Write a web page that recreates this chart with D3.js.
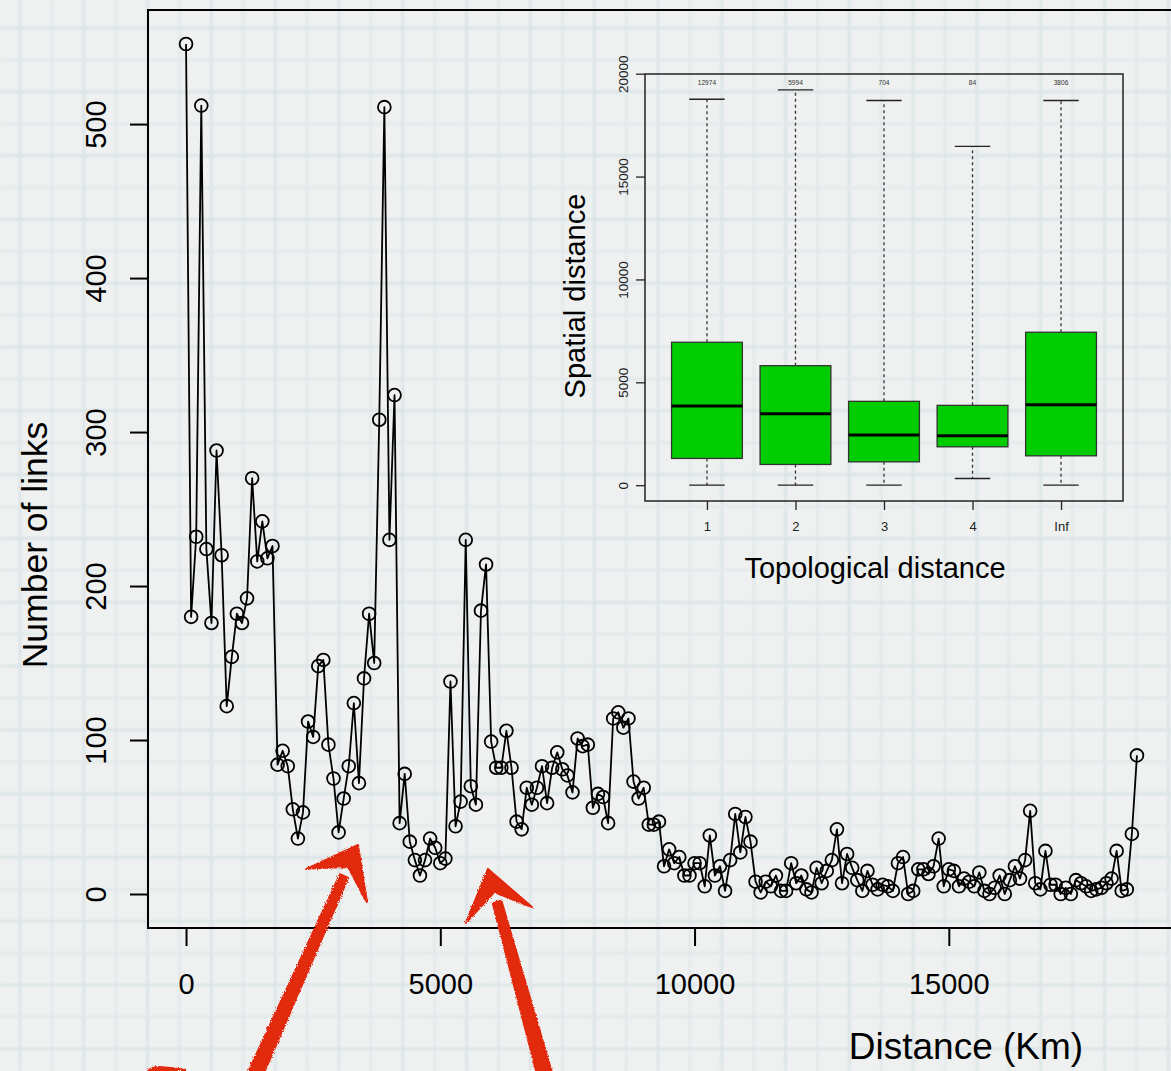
<!DOCTYPE html>
<meta charset="utf-8">
<title>Number of links by distance</title>
<style>
  body { margin: 0; background: #eff1f1; }
  svg { display: block; font-family: "Liberation Sans", Arial, Helvetica, sans-serif; }
</style>
<body>
<svg id="chart" width="1171" height="1071"></svg>
<script src="https://d3js.org/d3.v7.min.js"></script>
<script>

var width = 1171,
    height = 1071;

// number of links in each 100 km distance bin
var binWidthKm = 100;
var linkCounts = [
  552, 180, 232, 512, 224, 176, 288, 220, 122, 154,
  182, 176, 192, 270, 216, 242, 218, 226, 84, 93,
  83, 55, 36, 53, 112, 102, 148, 152, 97, 75,
  40, 62, 83, 124, 72, 140, 182, 150, 308, 511,
  230, 324, 46, 78, 34, 22, 12, 22, 36, 30,
  20, 23, 138, 44, 60, 230, 70, 58, 184, 214,
  99, 82, 82, 106, 82, 47, 42, 69, 58, 69,
  83, 59, 82, 92, 81, 77, 66, 101, 96, 97,
  56, 65, 63, 46, 114, 118, 108, 114, 73, 62,
  69, 45, 45, 47, 18, 29, 20, 24, 12, 12,
  20, 20, 5, 38, 12, 18, 2, 22, 52, 27,
  50, 34, 8, 1, 8, 5, 12, 2, 2, 20,
  7, 12, 3, 1, 17, 7, 15, 22, 42, 7,
  26, 17, 9, 2, 15, 6, 3, 6, 5, 2,
  20, 24, 0, 2, 16, 16, 13, 18, 36, 5,
  16, 15, 5, 10, 8, 5, 14, 2, 0, 4,
  12, 0, 9, 18, 10, 22, 54, 7, 3, 28,
  6, 6, 0, 4, 0, 9, 7, 5, 2, 3,
  4, 7, 10, 28, 2, 3, 39, 90
];

var xTicks = [0, 5000, 10000, 15000];
var yTicks = [0, 100, 200, 300, 400, 500];

// inset: spatial distance by topological distance (boxplot stats)
var topoCategories = ["1", "2", "3", "4", "Inf"];
var topoCounts = [12974, 5994, 704, 84, 3806];
var whiskerLow = [0, 0, 0, 326, 0];
var quartileLow = [1300, 1008, 1134, 1865, 1427];
var medians = [3846, 3471, 2434, 2400, 3910];
var quartileHigh = [6947, 5808, 4075, 3880, 7434];
var whiskerHigh = [18758, 19216, 18696, 16470, 18696];
var insetTicks = [0, 5000, 10000, 15000, 20000];

// hand drawn arrows, in data units (km, links)
var arrows = [
  { tail: [1356, -117.5], tip: [3381, 31.8], left: [2359, 16.2], right: [3558, -5.2] },
  { tail: [7057, -117.5], tip: [5937, 16.2], left: [5504, -18.8], right: [6802, -8.4] }
];

var points = linkCounts.map(function(c, i) { return { km: i * binWidthKm, links: c }; });

// R style axis limits (4% padding)
function rlim(lo, hi) { var e = (hi - lo) * 0.04; return [lo - e, hi + e]; }

var svg = d3.select('#chart');
var defs = svg.append('defs');

// graph paper background
defs.append('filter').attr('id', 'soft')
  .append('feGaussianBlur').attr('stdDeviation', 0.9);
var paper = svg.append('g');
paper.append('rect').attr('width', width).attr('height', height).attr('fill', '#eff1f1');
var grid = paper.append('g').attr('filter', 'url(#soft)');
var gridStep = 31.9;
grid.selectAll('line.v')
  .data(d3.range(20, width, gridStep))
  .enter().append('line')
    .attr('x1', function(d) { return d; }).attr('x2', function(d) { return d; })
    .attr('y1', 0).attr('y2', height)
    .attr('stroke', function(d, i) { return i % 2 ? '#e1e8ea' : '#d9e3e6'; })
    .attr('stroke-width', 2.6);
grid.selectAll('line.h')
  .data(d3.range(28, height, gridStep))
  .enter().append('line')
    .attr('y1', function(d) { return d; }).attr('y2', function(d) { return d; })
    .attr('x1', 0).attr('x2', width)
    .attr('stroke', function(d, i) { return i % 2 ? '#e1e8ea' : '#d9e3e6'; })
    .attr('stroke-width', 2.6);

// ---- main plot ----
var x = d3.scaleLinear()
  .domain(rlim(0, d3.max(points, function(d) { return d.km; })))
  .range([148, 1175]);
var y = d3.scaleLinear()
  .domain(rlim(0, d3.max(linkCounts)))
  .range([928, 10]);

var main = svg.append('g');

main.append('rect')
  .attr('x', x.range()[0]).attr('y', y.range()[1])
  .attr('width', x.range()[1] - x.range()[0])
  .attr('height', y.range()[0] - y.range()[1])
  .attr('fill', 'none').attr('stroke', '#000').attr('stroke-width', 2);

var yAxis = main.append('g')
  .attr('transform', 'translate(' + x.range()[0] + ',0)')
  .call(d3.axisLeft(y).tickValues(yTicks).tickSize(18).tickFormat(d3.format('d')));
yAxis.select('.domain').remove();
yAxis.selectAll('.tick line').attr('stroke-width', 2);
yAxis.selectAll('.tick text')
  .attr('transform', 'rotate(-90)')
  .attr('x', 0).attr('y', -42).attr('dy', null)
  .attr('text-anchor', 'middle')
  .style('font-size', '29px').style('font-family', 'inherit');

var xAxis = main.append('g')
  .attr('transform', 'translate(0,' + y.range()[0] + ')')
  .call(d3.axisBottom(x).tickValues(xTicks).tickSize(18).tickFormat(d3.format('d')));
xAxis.select('.domain').remove();
xAxis.selectAll('.tick line').attr('stroke-width', 2);
xAxis.selectAll('.tick text')
  .attr('y', 66).attr('dy', null)
  .style('font-size', '29px').style('font-family', 'inherit');

main.append('text')
  .attr('transform', 'translate(47,545) rotate(-90)')
  .attr('text-anchor', 'middle')
  .style('font-size', '35.5px')
  .text('Number of links');

main.append('text')
  .attr('x', 966).attr('y', 1059)
  .attr('text-anchor', 'middle')
  .style('font-size', '37px')
  .text('Distance (Km)');

var line = d3.line()
  .x(function(d) { return x(d.km); })
  .y(function(d) { return y(d.links); });

main.append('path')
  .datum(points)
  .attr('d', line)
  .attr('fill', 'none').attr('stroke', '#000').attr('stroke-width', 1.8)
  .attr('stroke-linejoin', 'round');

main.selectAll('circle')
  .data(points)
  .enter().append('circle')
    .attr('cx', function(d) { return x(d.km); })
    .attr('cy', function(d) { return y(d.links); })
    .attr('r', 6.4)
    .attr('fill', 'none').attr('stroke', '#000').attr('stroke-width', 1.8);

// ---- inset boxplot ----
var xi = d3.scaleLinear()
  .domain(rlim(0.5, topoCategories.length + 0.5))
  .range([645, 1123]);
var yi = d3.scaleLinear()
  .domain(rlim(0, d3.max(whiskerHigh)))
  .range([501, 74]);

var inset = svg.append('g');

var boxes = topoCategories.map(function(c, i) {
  return { name: c, pos: i + 1, n: topoCounts[i], lo: whiskerLow[i], q1: quartileLow[i],
           med: medians[i], q3: quartileHigh[i], hi: whiskerHigh[i] };
});

var halfBox = 0.4, halfCap = 0.2;
var box = inset.selectAll('g.box')
  .data(boxes)
  .enter().append('g').attr('class', 'box');

box.append('line')
  .attr('x1', function(d) { return xi(d.pos); }).attr('x2', function(d) { return xi(d.pos); })
  .attr('y1', function(d) { return yi(d.q3); }).attr('y2', function(d) { return yi(d.hi); })
  .attr('stroke', '#333').attr('stroke-width', 1.3).attr('stroke-dasharray', '3,3');
box.append('line')
  .attr('x1', function(d) { return xi(d.pos); }).attr('x2', function(d) { return xi(d.pos); })
  .attr('y1', function(d) { return yi(d.q1); }).attr('y2', function(d) { return yi(d.lo); })
  .attr('stroke', '#333').attr('stroke-width', 1.3).attr('stroke-dasharray', '3,3');
['hi', 'lo'].forEach(function(k) {
  box.append('line')
    .attr('x1', function(d) { return xi(d.pos - halfCap); })
    .attr('x2', function(d) { return xi(d.pos + halfCap); })
    .attr('y1', function(d) { return yi(d[k]); }).attr('y2', function(d) { return yi(d[k]); })
    .attr('stroke', '#222').attr('stroke-width', 1.3);
});
box.append('rect')
  .attr('x', function(d) { return xi(d.pos - halfBox); })
  .attr('width', function(d) { return xi(d.pos + halfBox) - xi(d.pos - halfBox); })
  .attr('y', function(d) { return yi(d.q3); })
  .attr('height', function(d) { return yi(d.q1) - yi(d.q3); })
  .attr('fill', '#00cd00').attr('stroke', '#333').attr('stroke-width', 1.3);
box.append('line')
  .attr('x1', function(d) { return xi(d.pos - halfBox); })
  .attr('x2', function(d) { return xi(d.pos + halfBox); })
  .attr('y1', function(d) { return yi(d.med); }).attr('y2', function(d) { return yi(d.med); })
  .attr('stroke', '#000').attr('stroke-width', 3);
box.append('text')
  .attr('x', function(d) { return xi(d.pos); })
  .attr('y', 84.5)
  .attr('text-anchor', 'middle')
  .style('font-size', '6.6px').attr('fill', '#333')
  .text(function(d) { return d.n; });

inset.append('rect')
  .attr('x', xi.range()[0]).attr('y', yi.range()[1])
  .attr('width', xi.range()[1] - xi.range()[0])
  .attr('height', yi.range()[0] - yi.range()[1])
  .attr('fill', 'none').attr('stroke', '#222').attr('stroke-width', 1.5);

var yiAxis = inset.append('g')
  .attr('transform', 'translate(' + xi.range()[0] + ',0)')
  .call(d3.axisLeft(yi).tickValues(insetTicks).tickSize(9).tickFormat(d3.format('d')));
yiAxis.select('.domain').remove();
yiAxis.selectAll('.tick line').attr('stroke-width', 1.3).attr('stroke', '#222');
yiAxis.selectAll('.tick text')
  .attr('transform', 'rotate(-90)')
  .attr('x', 0).attr('y', -17).attr('dy', null)
  .attr('text-anchor', 'middle').attr('fill', '#222')
  .style('font-size', '13.5px').style('font-family', 'inherit');

var xiAxis = inset.append('g')
  .attr('transform', 'translate(0,' + yi.range()[0] + ')')
  .call(d3.axisBottom(xi).tickValues(boxes.map(function(d) { return d.pos; }))
    .tickSize(9).tickFormat(function(v) { return topoCategories[v - 1]; }));
xiAxis.select('.domain').remove();
xiAxis.selectAll('.tick line').attr('stroke-width', 1.3).attr('stroke', '#222');
xiAxis.selectAll('.tick text')
  .attr('y', 30).attr('dy', null).attr('fill', '#222')
  .style('font-size', '13px').style('font-family', 'inherit');

inset.append('text')
  .attr('transform', 'translate(585,296) rotate(-90)')
  .attr('text-anchor', 'middle')
  .style('font-size', '29px')
  .text('Spatial distance');

inset.append('text')
  .attr('x', 875).attr('y', 578)
  .attr('text-anchor', 'middle')
  .style('font-size', '29px')
  .text('Topological distance');

// ---- red hand drawn arrows ----
var rough = defs.append('filter').attr('id', 'rough')
  .attr('x', '-10%').attr('y', '-10%').attr('width', '120%').attr('height', '120%');
rough.append('feTurbulence').attr('type', 'fractalNoise')
  .attr('baseFrequency', 0.8).attr('numOctaves', 2).attr('result', 'noise');
rough.append('feDisplacementMap').attr('in', 'SourceGraphic').attr('in2', 'noise')
  .attr('scale', 3.5);

function arrowPath(a) {
  var T = [x(a.tail[0]), y(a.tail[1])],
      P = [x(a.tip[0]), y(a.tip[1])],
      L = [x(a.left[0]), y(a.left[1])],
      R = [x(a.right[0]), y(a.right[1])];
  var dx = P[0] - T[0], dy = P[1] - T[1], len = Math.hypot(dx, dy),
      ux = dx / len, uy = dy / len, nx = -uy, ny = ux;
  var N = [P[0] - ux * 34, P[1] - uy * 34],
      H = [P[0] - ux * 24, P[1] - uy * 24];
  var wT = 7.5, wN = 4.5;
  var p = d3.path();
  p.moveTo(T[0] + nx * wT, T[1] + ny * wT);
  p.lineTo(N[0] + nx * wN, N[1] + ny * wN);
  p.lineTo(N[0] - nx * wN, N[1] - ny * wN);
  p.lineTo(T[0] - nx * wT, T[1] - ny * wT);
  p.closePath();
  p.moveTo(P[0], P[1]);
  p.lineTo(L[0], L[1]);
  p.lineTo(L[0] + ux * 2 + nx * 3, L[1] + uy * 2 + ny * 3);
  p.lineTo(H[0], H[1]);
  p.lineTo(R[0] - nx * 3 + ux * 2, R[1] - ny * 3 + uy * 2);
  p.lineTo(R[0], R[1]);
  p.closePath();
  return p.toString();
}

svg.append('g').attr('filter', 'url(#rough)')
  .selectAll('path')
  .data(arrows)
  .enter().append('path')
    .attr('d', arrowPath)
    .attr('fill', '#e2290e').attr('stroke', '#e2290e').attr('stroke-width', 2)
    .attr('stroke-linejoin', 'round');

// little red scribble cut off at the bottom edge
svg.append('path')
  .attr('d', 'M147,1071 Q150,1066 160,1066 Q172,1067 187,1069 L187,1071 Z')
  .attr('fill', '#e2290e').attr('filter', 'url(#rough)');

</script>
</body>
